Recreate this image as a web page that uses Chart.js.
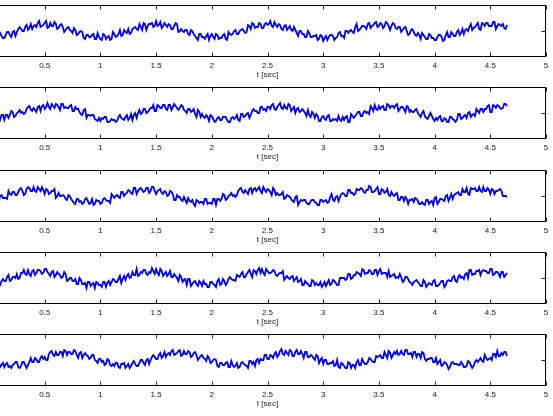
<!DOCTYPE html>
<html><head><meta charset="utf-8">
<script src="https://cdn.jsdelivr.net/npm/chart.js@4/dist/chart.umd.min.js"></script>
<style>
html,body{margin:0;padding:0;background:#fff;width:553px;height:416px;overflow:hidden;position:relative}
.panel{position:absolute;left:-11px;width:564px;height:87px}
canvas{display:block}
</style></head><body>
<div class="panel" style="top:0px"><canvas id="c0" width="564" height="87"></canvas></div>
<div class="panel" style="top:82px"><canvas id="c1" width="564" height="87"></canvas></div>
<div class="panel" style="top:165px"><canvas id="c2" width="564" height="87"></canvas></div>
<div class="panel" style="top:247px"><canvas id="c3" width="564" height="87"></canvas></div>
<div class="panel" style="top:329px"><canvas id="c4" width="564" height="87"></canvas></div>
<script>
// sampling interval of the recorded signals (seconds); the "b" arrays are the
// samples taken half-way between the main samples
const SAMPLE_STEP = 0.025;
const X_TICK_VALUES = [0.5, 1, 1.5, 2, 2.5, 3, 3.5, 4, 4.5, 5];
const Y_TICK_VALUES = [0];
const X_TITLE = 't [sec]';

// ---- panel 1 ----
const signal1 = [
 -5,-9,-5,-7,-2,-7,-4,-1,-6,0, -1,4,0,4,1,7,5,4,10,5, 8,3,8,5,7,3,7,-1,3,1, -2,1,-3,0,-7,-4,-6,-4,-8,-2,
 -8,-3,-8,-5,-8,-3,-5,1,-4,-1, 2,-2,3,2,7,1,7,5,7,4, 10,6,3,8,4,6,2,8,-1,2, -1,1,-4,0,-5,-9,-3,-6,-5,-9,
 -3,-8,-4,-7,-4,-8,-1,-4,0,-3, 0,2,-2,6,2,7,4,8,3,7, 6,10,4,6,7,2,5,1,5,0, 1,-5,0,-3,-6,-2,-6,-5,-9,-4,
 -10,-5,-6,-4,-9,-6,-1,-5,0,-2, 1,-2,7,1,5,4,7,3,6,9, 5,7,5,8,1,8,3,4,-1,3, 0,-3,2,-4,-2,-8,-4,-8,-3,-7,
 -9,-6,-4,-10,-4,-6,-1,-5,-1,-4, 2,1,0,7,3,6,2,8,5,8, 5,9,2,7,5,3,6
];
const signal1b = [
 -4,-7,-9,-4,-5,-7,-1,-4,-1,-5, 2,2,0,6,3,2,6,8,4,6, 10,4,5,9,2,6,4,1,4,0, 3,-4,-1,-1,-8,-4,-6,-3,-8,-6,
 -9,-4,-6,-9,-1,-6,-3,-5,1,-2, -3,2,4,1,4,8,1,7,8,5, 5,9,5,6,7,2,5,7,0,0, 1,-3,1,-3,-7,-3,-6,-8,-3,-5,
 -6,-3,-8,-7,-3,-9,-3,-3,1,-3, 1,0,-1,5,8,3,4,7,3,8, 7,5,9,4,6,1,6,3,1,4, -2,0,-3,-6,0,-6,-5,-4,-8,-5,
 -7,-9,-4,-5,-7,-2,-5,-7,0,0, -1,4,0,3,5,2,8,5,8,4, 8,3,9,5,5,7,2,4,1,4, -4,1,-1,-5,-4,-2,-6,-8,-4,-7,
 -9,-4,-6,-9,-1,-6,-3,-5,1,-2, -3,2,4,1,4,8,1,7,8,5, 5,9,5,6,7,2
];
// ---- panel 2 ----
const signal2 = [
 -3,-6,-1,-5,-7,
 -2,-2,-5,2,-4,0,3,1,0,6,3,5,1,7,7,4,10,4,7,9,6,9,
 5,5,7,2,6,4,-1,3,-5,-2,-2,-6,-8,-8,-6,-4,-9,-6,
 -7,-8,-2,-6,-4,-7,-1,-2,-5,3, 0,4,1,5,8,2,7,5,8,3, 8,6,7,3,8,3,0,4,2,-1, 3,-4,-4,-2,-8,-3,-9,-5,-7,-4,
 -4,-9,-5,-6,-2,-8,-1,-3,0,-2, 4,2,0,6,4,6,4,9,3,8, 5,8,4,8,4,0,5,2,2,-3, -2,1,-5,-3,-8,-3,-7,-2,-8,-7,
 -8,-7,-4,-4,-9,-1,-5,-1,1,-3, 2,1,7,2,4,7,6,3,9,5, 7,8,2,6,4,7,1,1,3,0, -4,2,-5,-3,-3,-8,-7,-3,-8,-6,
 -9,-4,-7,-7,-1,-5,-2,0,-4,-1, 4,0,4,4,7,1,8,5,7,4, 9,7
];
const signal2b = [
 -3,-1,-6,-5,-2, -7,-2,-2,1,-3, 1,0,-1,4,7, 2,3,6,2,8, 6,6,9,5,8, 3,9,6,5,8, 2,4,1,-2,4, -2,-3,-2,-7,-5, -5,-4,-9,-8,
 -7,-9,-4,-5,-7,-2,-5,-7,0,0, -1,4,0,3,5,2,8,5,8,4, 8,3,9,5,5,7,2,4,1,4, -4,1,-1,-5,-4,-2,-6,-8,-4,-7,
 -4,-7,-9,-4,-5,-7,-1,-4,-1,-5, 2,2,0,6,3,2,6,8,4,6, 10,4,5,9,2,6,4,1,4,0, 3,-4,-1,-1,-8,-4,-6,-3,-8,-6,
 -6,-3,-8,-7,-3,-9,-3,-3,1,-3, 1,0,-1,5,8,3,4,7,3,8, 7,5,9,4,6,1,6,3,1,4, -2,0,-3,-6,0,-6,-5,-4,-8,-5,
 -9,-4,-6,-9,-1,-6,-3,-5,1,-2, -3,2,4,1,4,8,1,7,8,5, 5,9
];
// ---- panel 3 ----
const signal3 = [
 -7,-4,-1,-6,0,-2,-2,5,1,4, 1,7,5,2,9,5,9,4,7,9, 2,6,3,5,-2,3,0,0,-4,0, -5,-8,-3,-5,-7,-2,
 -8,-3,-8,-5,-8,-3,-4,-5,2,-2, 1,-2,4,2,6,3,8,2,7,6, 5,8,5,9,2,6,3,5,0,5, 2,-4,-1,-4,-1,-7,-5,-4,-10,-5,
 -6,-8,-3,-7,-8,-3,-3,-5,2,-4, 0,3,1,1,7,4,6,2,8,7, 5,9,3,6,7,4,8,1,1,2, -3,1,-1,-5,-1,-9,-4,-4,-7,-8,
 -4,-6,-9,-4,-6,-4,-6,2,-5,0, -1,3,0,6,3,1,7,6,7,3, 6,9,4,7,2,7,3,7,0,1, 2,-4,-1,-5,-3,-4,-3,-2,-5,-8,
 -8,-4,-8,-5,-2,-8,-3,-4,0,-5, 2,1,3,1,7,4,2,8,7,5, 9,4,5,8,2,6,5,6,5,0, -1
];
const signal3b = [
 -1,-6,-3,-5,1,-2, -3,2,4,1,4,8,1,7,8,5, 5,9,5,6,7,2,5,7,0,0, 1,-3,1,-3,-7,-3,-6,-8,-3,-5,
 -7,-9,-4,-5,-7,-2,-5,-7,0,0, -1,4,0,3,5,2,8,5,8,4, 8,3,9,5,5,7,2,4,1,4, -4,1,-1,-5,-4,-2,-6,-8,-4,-7,
 -6,-3,-8,-7,-3,-9,-3,-3,1,-3, 1,0,-1,5,8,3,4,7,3,8, 7,5,9,4,6,1,6,3,1,4, -2,0,-3,-6,0,-6,-5,-4,-8,-5,
 -4,-7,-9,-4,-5,-7,-1,-4,-1,-5, 2,2,0,6,3,2,6,8,4,6, 10,4,5,9,2,6,4,1,4,0, 3,-4,-1,-1,-8,-4,-6,-3,-8,-6,
 -9,-4,-6,-9,-1,-6,-3,-5,1,-2, -3,2,4,1,4,8,1,7,8,5, 5,9,5,6,7,2,5,7,0,0
];
// ---- panel 4 ----
const signal4 = [
 -7,-3,-7,-4,-7,-1,-3,3,-2,1, 4,0,5,4,8,2,8,5,8,4, 9,6,2,7,3,4,0,6,-3,0, -3,-1,-6,-2,-6,-10,-4,-6,
 -10,-5,-7,-4,-9,-3,-4,-2,-4,2, -1,-2,4,1,3,9,3,5,8,3, 5,7,9,3,7,4,2,7,1,2, -3,1,-2,-7,-1,-6,-3,-8,-5,-3,
 -6,-9,-4,-7,-3,-7,-1,-7,-1,-1, -2,3,1,6,1,6,4,8,4,10, 9,3,7,5,8,3,4,5,-2,2, -1,2,-1,-4,-1,-7,-5,-8,-2,-7,
 -7,-4,-7,-8,-2,-6,-3,-7,0,0, -2,4,-1,3,6,4,9,4,5,7, 4,8,7,4,5,1,1,3,0,0, 1,-3,1,-4,-7,-3,-4,-8,-2,-9,
 -5,-7,-2,-8,-5,-3,-7,-2,-3,2, -4,3,1,4,0,8,4,7,8,7, 7,5,9,3,6,4,6,1,5
];
const signal4b = [
 -8,-7,-3,-9,-3,-3,1,-3, 1,0,-1,5,8,3,4,7,3,8, 7,5,9,4,6,1,6,3,1,4, -2,0,-3,-6,0,-6,-5,-4,-8,-5,
 -4,-7,-9,-4,-5,-7,-1,-4,-1,-5, 2,2,0,6,3,2,6,8,4,6, 10,4,5,9,2,6,4,1,4,0, 3,-4,-1,-1,-8,-4,-6,-3,-8,-6,
 -9,-4,-6,-9,-1,-6,-3,-5,1,-2, -3,2,4,1,4,8,1,7,8,5, 5,9,5,6,7,2,5,7,0,0, 1,-3,1,-3,-7,-3,-6,-8,-3,-5,
 -7,-9,-4,-5,-7,-2,-5,-7,0,0, -1,4,0,3,5,2,8,5,8,4, 8,3,9,5,5,7,2,4,1,4, -4,1,-1,-5,-4,-2,-6,-8,-4,-7,
 -6,-3,-8,-7,-3,-9,-3,-3,1,-3, 1,0,-1,5,8,3,4,7,3,8, 7,5,9,4,6,1,6,3
];
// ---- panel 5 ----
const signal5 = [
 0,-4,0,-5,-7,-3,-4,-7,
 -8,-4,-2,-8,-2,-5,-5,2,-2,1, -2,4,3,0,8,5,8,5,8,10, 5,8,6,9,2,8,5,5,1,5, 0,-3,1,-1,-4,0,-6,-6,-3,-8,
 -4,-8,-4,-6,-1,-6,-3,0,-5,1, 0,5,1,5,2,8,6,5,10,6, 9,4,9,6,8,4,8,0,4,2, -1,2,-2,1,-6,-3,-5,-3,-7,-1,
 -7,-3,-7,-2,-5,-8,-1,-2,0,-3, 0,5,1,5,2,8,5,11,5,7, 10,4,8,6,9,2,8,3,4,0, 4,0,-4,0,-4,-3,-6,0,-8,-4,
 -8,-2,-8,-5,-2,-5,1,-4,-2,1, -2,4,4,2,8,2,7,5,6,5, 9,5,10,6,3,8,6,2,7,-1, 1,2,-2,-4,0,-5,-3,-9,-3,-4,
 -4,-5,-4,-7,-1,-5,-6,0,0,-1, 5,0,2,6,3,4,7,8,4
];
const signal5b = [
 0,-4,-3,-1,-5,-7,-3,-6,
 -5,-2,-7,-6,-2,-8,-2,-2,2,-2, 2,1,0,6,9,4,5,8,4,9, 8,6,10,5,7,2,7,4,2,5, -1,1,-2,-5,1,-5,-4,-3,-7,-4,
 -3,-6,-8,-3,-4,-6,0,-3,0,-4, 3,3,1,7,4,3,7,9,5,7, 10,5,6,9,3,7,5,2,5,1, 4,-3,0,0,-7,-3,-5,-2,-7,-5,
 -6,-8,-3,-4,-6,-1,-4,-6,1,1, 0,5,1,4,6,3,9,6,9,5, 9,4,10,6,6,8,3,5,2,5, -3,2,0,-4,-3,-1,-5,-7,-3,-6,
 -8,-3,-5,-8,0,-5,-2,-4,2,-1, -2,3,5,2,5,9,2,8,9,6, 6,10,6,7,8,3,6,8,1,1, 2,-2,2,-2,-6,-2,-5,-7,-2,-4,
 -5,-2,-7,-6,-2,-8,-2,-2,2,-2, 2,1,0,6,9,4,5,8
];
const panels = [
  [signal1, signal1b], [signal2, signal2b], [signal3, signal3b], [signal4, signal4b], [signal5, signal5b]
];

const FONT = "'Liberation Sans', Arial, Helvetica, sans-serif";

const framePlugin = {
  id: 'frame',
  afterDraw(chart) {
    const {ctx, chartArea: a, scales: {x, y}} = chart;
    ctx.save();
    const L = Math.round(a.left) + 0.5, R = Math.round(a.right) - 0.5;
    const T = Math.round(a.top) + 0.5, B = Math.round(a.bottom) - 0.5;
    ctx.strokeStyle = '#000';
    ctx.lineWidth = 1;
    ctx.strokeRect(L, T, R - L, B - T);
    ctx.strokeStyle = '#222';
    ctx.beginPath();
    X_TICK_VALUES.forEach(v => {
      const px = Math.round(x.getPixelForValue(v)) + 0.5;
      ctx.moveTo(px, T); ctx.lineTo(px, T + 4);
      ctx.moveTo(px, B); ctx.lineTo(px, B - 4);
    });
    Y_TICK_VALUES.forEach(v => {
      const py = Math.round(y.getPixelForValue(v)) + 0.5;
      ctx.moveTo(R, py); ctx.lineTo(R - 4, py);
      ctx.moveTo(L, py); ctx.lineTo(L + 4, py);
    });
    ctx.stroke();
    ctx.restore();
  }
};

panels.forEach(([main, between], k) => {
  // merge main samples and in-between samples in time order
  const pts = [];
  main.forEach((v, i) => {
    pts.push({x: i * SAMPLE_STEP, y: v});
    if (i < between.length) pts.push({x: (i + 0.5) * SAMPLE_STEP, y: between[i]});
  });
  new Chart(document.getElementById('c' + k), {
    type: 'line',
    data: {datasets: [{data: pts, borderColor: '#0000ff', borderWidth: 1.8, pointRadius: 0, tension: 0, fill: false,
                       borderJoinStyle: 'miter'}]},
    options: {
      responsive: false,
      devicePixelRatio: 1,
      animation: false,
      events: [],
      parsing: false,
      layout: {padding: {left: 0, right: 7, top: 5, bottom: 0}},
      plugins: {legend: {display: false}, tooltip: {enabled: false}},
      scales: {
        x: {
          type: 'linear', min: 0, max: 5,
          grid: {display: false, drawTicks: false, tickLength: 0}, border: {display: false},
          afterBuildTicks: s => { s.ticks = X_TICK_VALUES.map(v => ({value: v})); },
          afterFit: s => { s.height = 30; },
          ticks: {padding: 3.5, color: '#222', font: {family: FONT, size: 8}, maxRotation: 0, autoSkip: false,
                  callback: v => String(v)},
          title: {display: true, text: X_TITLE, color: '#222', font: {family: FONT, size: 8}, padding: {top: 0, bottom: 7}}
        },
        y: {type: 'linear', min: -26, max: 26, display: false}
      }
    },
    plugins: [framePlugin]
  });
});
</script>
</body></html>
